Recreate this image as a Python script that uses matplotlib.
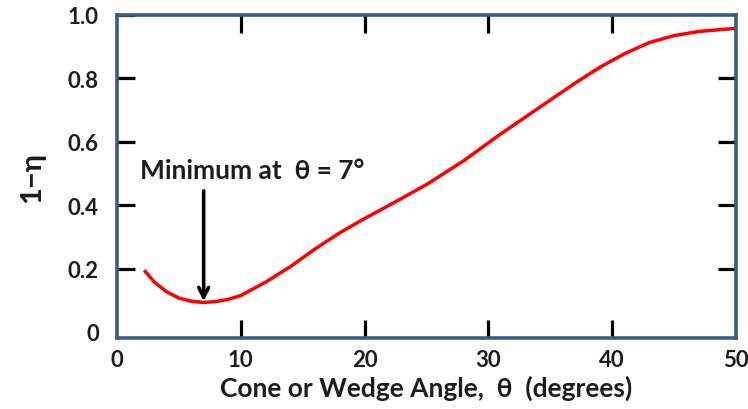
import matplotlib
matplotlib.use("Agg")
import matplotlib.pyplot as plt

plt.rcParams['font.family'] = ['Lato', 'DejaVu Sans']

theta = [2.2, 3, 4, 5, 6, 7, 8, 9, 10, 12, 14, 16, 18, 20, 22, 25, 28, 31, 34, 37, 39, 41, 43, 45, 47, 50]
one_minus_eta = [0.195, 0.158, 0.127, 0.107, 0.097, 0.093, 0.096, 0.103, 0.115, 0.157, 0.206,
                 0.262, 0.313, 0.358, 0.40, 0.465, 0.54, 0.625, 0.705, 0.785, 0.835, 0.878,
                 0.913, 0.935, 0.948, 0.958]
x_ticks = [0, 10, 20, 30, 40, 50]
x_tick_labels = ["0", "10", "20", "30", "40", "50"]
y_ticks = [0, 0.2, 0.4, 0.6, 0.8, 1.0]
y_tick_labels = ["0", "0.2", "0.4", "0.6", "0.8", "1.0"]
min_theta = 7
min_value = 0.093

text_color = "#1c1c1c"
frame_color = "#3d5a87"

fig = plt.figure(figsize=(7.48, 4.10), dpi=100)
ax = fig.add_axes([0.1564, 0.1732, 0.984 - 0.1564, 0.961 - 0.1732])

ax.plot(theta, one_minus_eta, color="#ff0000", lw=2.5, solid_capstyle="butt",
        solid_joinstyle="round")

ax.set_xlim(0, 50)
ax.set_ylim(-0.019, 1.0)

for s in ax.spines.values():
    s.set_color(frame_color)
    s.set_linewidth(2.6)

ax.set_xticks(x_ticks)
ax.set_xticklabels(x_tick_labels)
ax.set_yticks(y_ticks)
ax.set_yticklabels(y_tick_labels)
ax.tick_params(axis="both", direction="in", length=13, width=2.3, color="black",
               top=True, right=True, labelsize=16, labelcolor=text_color)
ax.tick_params(axis="x", pad=8)
ax.tick_params(axis="y", pad=13)
for lab in ax.get_xticklabels() + ax.get_yticklabels():
    lab.set_fontweight("bold")
yt = ax.yaxis.get_major_ticks()
yt[0].tick1line.set_visible(False)
yt[0].tick2line.set_visible(False)
yt[-1].tick2line.set_visible(False)
xt = ax.xaxis.get_major_ticks()
for t in (xt[0], xt[-1]):
    t.tick1line.set_visible(False)
    t.tick2line.set_visible(False)

ax.set_xlabel("Cone or Wedge Angle,  θ  (degrees)", fontsize=19, fontweight="bold",
              color=text_color, labelpad=3)
ax.set_ylabel("1\u2212η", fontsize=21, fontweight="bold", color=text_color, labelpad=16)

ax.annotate("", xy=(min_theta, min_value + 0.004), xytext=(min_theta, 0.445),
            arrowprops=dict(arrowstyle="->,head_length=0.7,head_width=0.35",
                            color="black", lw=2.6, shrinkA=0, shrinkB=0))
ax.text(1.85, 0.51, "Minimum at  θ = 7°", fontsize=19, fontweight="bold",
        color=text_color, ha="left", va="center")

fig.savefig("out.png", dpi=100)
